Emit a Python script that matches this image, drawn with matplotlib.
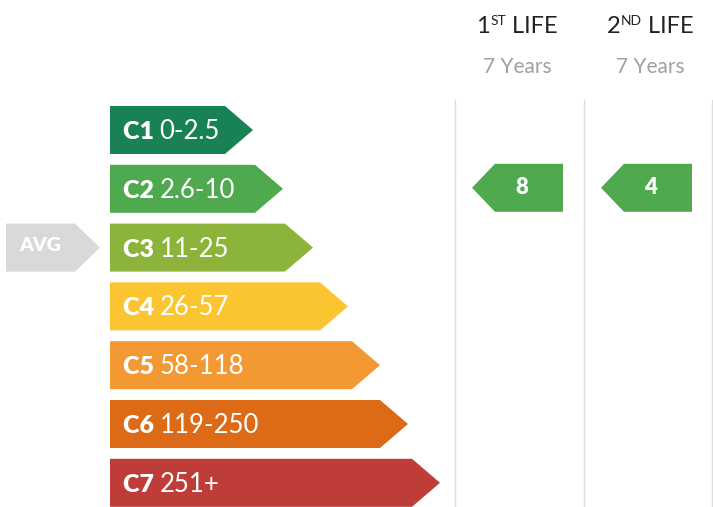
import matplotlib.pyplot as plt
from matplotlib.patches import Polygon

# band labels, ranges, colours
classes = ['C1', 'C2', 'C3', 'C4', 'C5', 'C6', 'C7']
ranges = ['0-2.5', '2.6-10', '11-25', '26-57', '58-118', '119-250', '251+']
colors = ['#198255', '#4ea94f', '#8cb43a', '#fbc531', '#f29933', '#dc6a17', '#bf3d38']
tip_x = [253, 283, 313, 348, 380, 408, 440]

avg_class = 'C3'

lives = ['1', '2']
life_sup = ['ST', 'ND']
life_years = [7, 7]
life_value = [8, 4]
life_class = ['C2', 'C2']

W, H = 713, 507
fig = plt.figure(figsize=(W / 100, H / 100), dpi=100)
ax = fig.add_axes([0, 0, 1, 1])
ax.set_xlim(0, W)
ax.set_ylim(H, 0)
ax.axis('off')
renderer = fig.canvas.get_renderer()


def text_run(x, y, parts, ha='left'):
    # parts: list of (string, kwargs, dy)
    widths = []
    for s, kw, dy in parts:
        t = ax.text(0, 0, s, **kw)
        bb = t.get_window_extent(renderer)
        widths.append(bb.width)
        t.remove()
    total = sum(widths)
    if ha == 'center':
        x = x - total / 2
    for (s, kw, dy), w in zip(parts, widths):
        ax.text(x, y + dy, s, va='baseline', ha='left', **kw)
        x += w


bar_left = 110
bar_h = 48
row_step = 58.8
top0 = 106
tip_len = 28
font = 'Lato'

for i, c in enumerate(classes):
    y0 = top0 + i * row_step
    y1 = y0 + bar_h
    ym = (y0 + y1) / 2
    poly = Polygon([(bar_left, y0), (tip_x[i] - tip_len, y0), (tip_x[i], ym),
                    (tip_x[i] - tip_len, y1), (bar_left, y1)],
                   closed=True, facecolor=colors[i], edgecolor='none')
    ax.add_patch(poly)
    text_run(bar_left + 13, ym + 9, [
        (c + ' ', dict(fontsize=18, color='white', fontweight='heavy', family=font), 0),
        (ranges[i], dict(fontsize=18.5, color='white', fontweight='normal', family=font), 0),
    ])
    if c == avg_class:
        poly = Polygon([(6, y0), (75, y0), (100, ym), (75, y1), (6, y1)],
                       closed=True, facecolor='#d9d9d9', edgecolor='none')
        ax.add_patch(poly)
        ax.text(40, ym - 2, 'AVG', color='white', fontsize=14, fontweight='heavy',
                family=font, ha='center', va='center')

# columns
col_lines = [455, 584, 712]
for x in col_lines:
    ax.plot([x, x], [100, H], color='#dddddd', lw=1)

col_centers = [517, 650]
for j in range(len(lives)):
    cx = col_centers[j]
    text_run(cx, 33, [
        (lives[j], dict(fontsize=17, color='#222222', fontweight='normal', family=font), 0),
        (life_sup[j], dict(fontsize=10, color='#222222', fontweight='normal', family=font), -8),
        (' LIFE', dict(fontsize=17, color='#222222', fontweight='normal', family=font), 0),
    ], ha='center')
    ax.text(cx, 67, '%d Years' % life_years[j], fontsize=15, color='#a0a0a0',
            fontweight='normal', family=font, ha='center', va='center')
    k = classes.index(life_class[j])
    y0 = top0 + k * row_step - 1
    y1 = y0 + bar_h
    ym = (y0 + y1) / 2
    right = col_lines[j] + 108
    left = right - 91
    poly = Polygon([(left, ym), (left + 23, y0), (right, y0), (right, y1), (left + 23, y1)],
                   closed=True, facecolor='#4ea94f', edgecolor='none')
    ax.add_patch(poly)
    ax.text(left + 50, ym, str(life_value[j]), fontsize=16, color='white',
            fontweight='heavy', family=font, ha='center', va='center')

fig.savefig('out.png', dpi=100)
